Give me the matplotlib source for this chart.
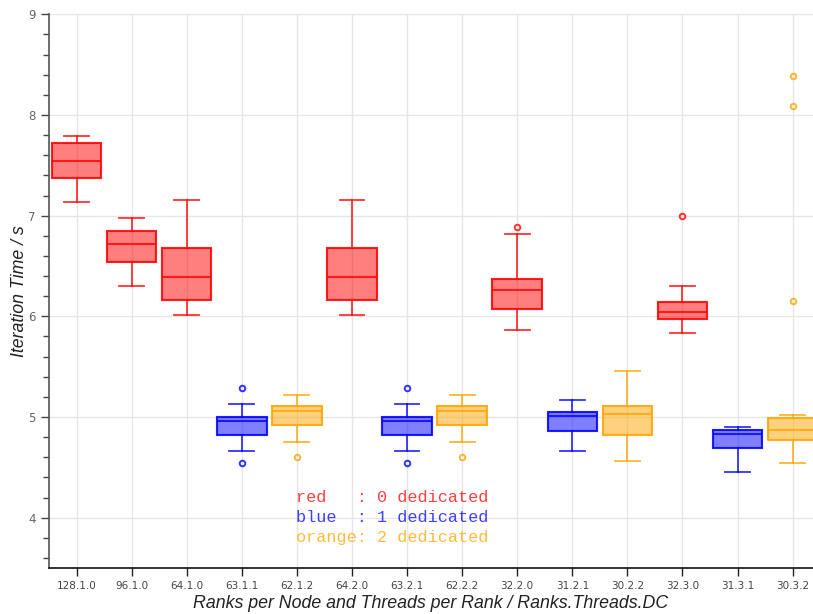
from matplotlib import pyplot as plt
from matplotlib.ticker import MultipleLocator

categories = ["128.1.0", "96.1.0", "64.1.0", "63.1.1", "62.1.2", "64.2.0", "63.2.1",
              "62.2.2", "32.2.0", "31.2.1", "30.2.2", "32.3.0", "31.3.1", "30.3.2"]
groups = ["red", "red", "red", "blue", "orange", "red", "blue",
          "orange", "red", "blue", "orange", "red", "blue", "orange"]

whislo = [7.14, 6.30, 6.01, 4.66, 4.75, 6.01, 4.66, 4.75, 5.86, 4.66, 4.56, 5.83, 4.455, 4.545]
q1     = [7.37, 6.54, 6.16, 4.82, 4.92, 6.16, 4.82, 4.92, 6.07, 4.86, 4.82, 5.97, 4.69, 4.77]
med    = [7.54, 6.72, 6.39, 4.96, 5.06, 6.39, 4.96, 5.06, 6.26, 5.01, 5.03, 6.04, 4.83, 4.875]
q3     = [7.72, 6.85, 6.68, 5.00, 5.11, 6.68, 5.00, 5.11, 6.37, 5.05, 5.11, 6.14, 4.875, 4.99]
whishi = [7.79, 6.975, 7.16, 5.13, 5.22, 7.16, 5.13, 5.22, 6.82, 5.17, 5.46, 6.30, 4.905, 5.02]
fliers = [[], [], [], [5.29, 4.54], [4.60], [], [5.29, 4.54],
          [4.60], [6.89], [], [], [7.00], [], [8.39, 8.09, 6.15]]

legend_lines = ["red   : 0 dedicated", "blue  : 1 dedicated", "orange: 2 dedicated"]
legend_colors = ["red", "blue", "orange"]

fig = plt.figure(figsize=(8.13, 6.14), dpi=100)
ax = fig.add_axes([49/813, 1-568/614, 1-49/813, (568-14.3)/614])

for i, name in enumerate(categories):
    c = groups[i]
    stats = [dict(whislo=whislo[i], q1=q1[i], med=med[i], q3=q3[i], whishi=whishi[i],
                  fliers=fliers[i], label=name)]
    ax.bxp(stats, positions=[i], widths=0.9, patch_artist=True, manage_ticks=False,
           boxprops=dict(facecolor=c, alpha=0.5, edgecolor=c, linewidth=1.5),
           medianprops=dict(color=c, linewidth=1.5, alpha=0.8),
           whiskerprops=dict(color=c, linewidth=1.3, alpha=0.8),
           capprops=dict(color=c, linewidth=1.3, alpha=0.8),
           flierprops=dict(marker="o", markersize=4, markerfacecolor="none",
                           markeredgecolor=c, markeredgewidth=1.4, alpha=0.8))
    # solid outline on top of the translucent box
    ax.bxp(stats, positions=[i], widths=0.9, patch_artist=True, manage_ticks=False,
           showfliers=False, showcaps=False,
           boxprops=dict(facecolor="none", edgecolor=c, linewidth=1.5, alpha=0.75),
           medianprops=dict(linewidth=0), whiskerprops=dict(linewidth=0))

for k, (txt, col) in enumerate(zip(legend_lines, legend_colors)):
    ax.text(3.98, 4.2 - 0.2*k, txt, color=col, alpha=0.75, family="Liberation Mono",
            fontsize=12.2, va="center", ha="left")

ax.set_xticks(range(len(categories)))
ax.set_xticklabels(categories, fontsize=7.5, color="#444444")
ax.set_xlim(-0.5, 13.37)
ax.set_ylim(3.5, 9)
ax.yaxis.set_major_locator(MultipleLocator(1))
ax.yaxis.set_minor_locator(MultipleLocator(0.2))
ax.tick_params(axis="y", which="major", length=6, width=1, labelsize=8.5, labelcolor="#666666", color="#444444")
ax.tick_params(axis="y", which="minor", length=4, width=1, color="#444444")
ax.tick_params(axis="x", which="major", length=6, width=1, color="#222222")
ax.grid(True, color="#e6e6e6", linewidth=1)
ax.set_axisbelow(True)
for s in ["top", "right"]:
    ax.spines[s].set_visible(False)
ax.spines["left"].set_color("#555555")
ax.spines["left"].set_linewidth(1.2)
ax.spines["bottom"].set_color("#111111")
ax.spines["bottom"].set_linewidth(1.2)

ax.set_xlabel("Ranks per Node and Threads per Rank / Ranks.Threads.DC", fontsize=12.8,
              family="Liberation Sans", style="italic", color="#222222", labelpad=3)
ax.set_ylabel("Iteration Time / s", fontsize=12.8, family="Liberation Sans",
              style="italic", color="#222222", labelpad=0)

fig.savefig("out.png", dpi=100)
